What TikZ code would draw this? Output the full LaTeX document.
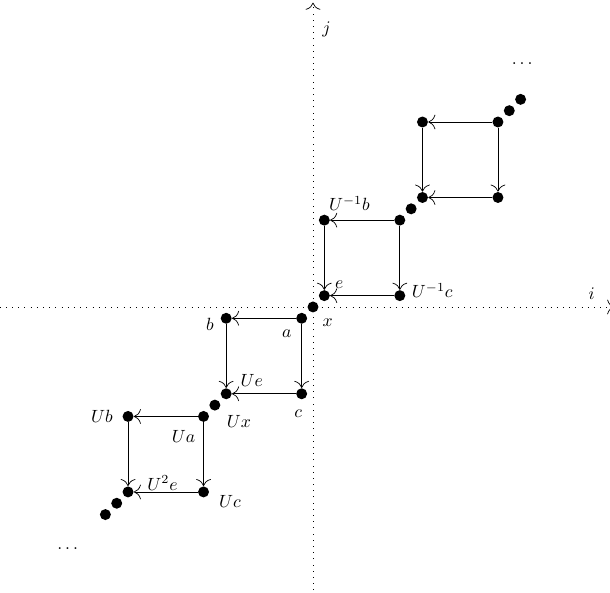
\documentclass[tikz,border=0pt]{standalone}
\usepackage{amssymb,amsmath}
\usepackage{tikz}
\usetikzlibrary{calc,arrows.meta}

\begin{document}
\begin{tikzpicture}[x=1.5cm,y=1.5cm,>={To[scale=1.6]},
    vtx/.style={circle,fill=black,inner sep=0pt,minimum size=6.2pt},
    axis/.style={dash pattern=on 0.4pt off 3.1pt},
    lbl/.style={font=\normalsize}]
  \useasboundingbox (-4.146,-3.788) rectangle (3.934,4.066);

  % axes
  \draw[axis,->] (-4.15,0) -- (3.99,0);
  \draw[axis,->] (0,-3.75) -- (0,4.03);
  \node[lbl] (ilbl) at (3.69,0.17) {$i$};
  \node[lbl] (jlbl) at (0.18,3.68) {$j$};

  % points on the diagonal
  \node[vtx] (eMM) at (2.75,2.75) {};
  \node[vtx] (xMM) at (2.6,2.6) {};
  \node[vtx] (aMM) at (2.45,2.45) {};
  \node[vtx] (eM) at (1.45,1.45) {};
  \node[vtx] (xM) at (1.3,1.3) {};
  \node[vtx] (aM) at (1.15,1.15) {};
  \node[vtx] (e) at (0.15,0.15) {};
  \node[vtx] (x) at (0,0) {};
  \node[vtx] (a) at (-0.15,-0.15) {};
  \node[vtx] (eU) at (-1.15,-1.15) {};
  \node[vtx] (xU) at (-1.3,-1.3) {};
  \node[vtx] (aU) at (-1.45,-1.45) {};
  \node[vtx] (eUU) at (-2.45,-2.45) {};
  \node[vtx] (xUU) at (-2.6,-2.6) {};
  \node[vtx] (aUU) at (-2.75,-2.75) {};

  % other corners of the squares
  \node[vtx] (bMM) at (1.45,2.45) {};
  \node[vtx] (cMM) at (2.45,1.45) {};
  \node[vtx] (bM) at (0.15,1.15) {};
  \node[vtx] (cM) at (1.15,0.15) {};
  \node[vtx] (b) at (-1.15,-0.15) {};
  \node[vtx] (c) at (-0.15,-1.15) {};
  \node[vtx] (bU) at (-2.45,-1.45) {};
  \node[vtx] (cU) at (-1.45,-2.45) {};

  \foreach \s/\t in {aMM/bMM,aMM/cMM,bMM/eM,cMM/eM,
                     aM/bM,aM/cM,bM/e,cM/e,
                     a/b,a/c,b/eU,c/eU,
                     aU/bU,aU/cU,bU/eUU,cU/eUU}
    \draw[->] (\s) -- (\t);

  % labels
  \node[lbl] (lbM) at (0.483,1.37) {$U^{-1}b$};
  \node[lbl] (le) at (0.346,0.29) {$e$};
  \node[lbl] (lcM) at (1.58,0.22) {$U^{-1}c$};
  \node[lbl] (lx) at (0.195,-0.208) {$x$};
  \node[lbl] (lb) at (-1.364,-0.232) {$b$};
  \node[lbl] (la) at (-0.348,-0.348) {$a$};
  \node[lbl] (lc) at (-0.195,-1.408) {$c$};
  \node[lbl] (leU) at (-0.812,-0.98) {$Ue$};
  \node[lbl] (lxU) at (-0.98,-1.52) {$Ux$};
  \node[lbl] (lbU) at (-2.795,-1.444) {$Ub$};
  \node[lbl] (laU) at (-1.715,-1.718) {$Ua$};
  \node[lbl] (leUU) at (-1.993,-2.331) {$U^2e$};
  \node[lbl] (lcU) at (-1.099,-2.579) {$Uc$};
  \node[lbl] (dtop) at (2.79,3.22) {$\dots$};
  \node[lbl] (dbot) at (-3.23,-3.2) {$\dots$};
\end{tikzpicture}
\end{document}
